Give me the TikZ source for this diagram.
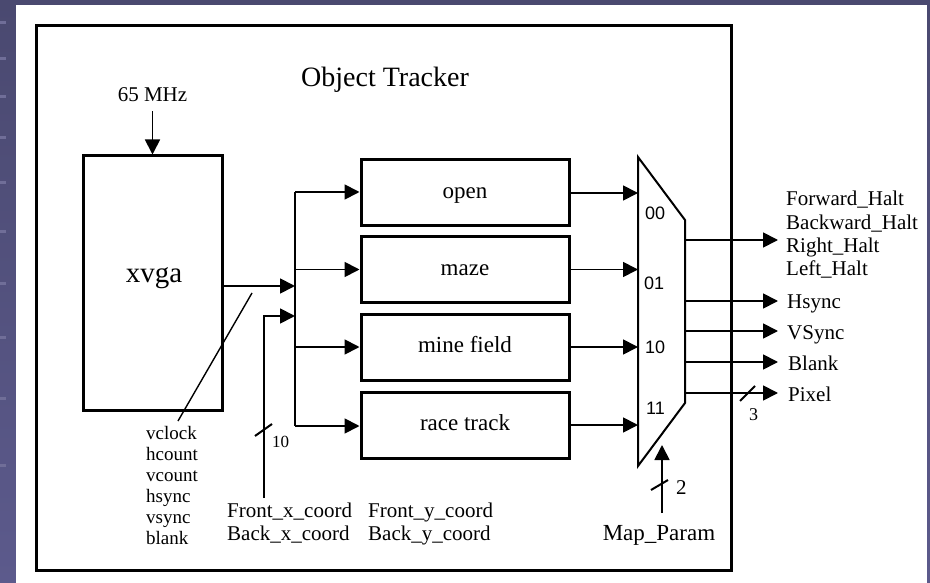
\documentclass[tikz,border=0pt]{standalone}
\usepackage{fontspec}
\setmainfont{Liberation Serif}
\newfontfamily\muxfont{Liberation Sans}
\usetikzlibrary{arrows.meta}
\definecolor{slidetop}{RGB}{74,73,112}
\definecolor{slidebot}{RGB}{92,90,140}
\definecolor{slidetick}{RGB}{112,110,152}

\begin{document}
\begin{tikzpicture}[x=1pt,y=-1pt,
  wire/.style={line width=1.8pt},
  sig/.style={wire,-{Triangle[length=15pt,width=15pt]}},
  busmark/.style={line width=2pt},
  lbl/.style={inner sep=0pt},
  fsz/.style={font=\fontsize{#1}{#1}\selectfont},
  block/.style={draw,line width=3pt,minimum width=208pt,minimum height=66pt,
    inner sep=0pt,fsz=23,text height=16.5pt,text depth=5pt},
  muxlbl/.style={lbl,anchor=base west,font=\muxfont\fontsize{18}{18}\selectfont},
  stack/.style={lbl,anchor=north west,align=left},
]
% slide background and white panel
\shade[top color=slidetop,bottom color=slidebot] (0,0) rectangle (930,583);
\useasboundingbox (0,0) rectangle (930,583);
\foreach \ty in {23,59,97,138,183,232,283,337,398,465}
  \fill[slidetick] (0,\ty-1.5) rectangle (6,\ty+1.5);
\fill[white] (16,5) rectangle (927,583);

% enclosing module
\node[draw,line width=3pt,minimum width=695pt,minimum height=544pt,inner sep=0pt]
  (tracker) at (383.5,298) {};
\node[lbl,anchor=base,fsz=28] (title) at (385,87) {Object Tracker};

% VGA timing generator
\node[draw,line width=3pt,minimum width=139pt,minimum height=254pt,inner sep=0pt]
  (xvga) at (152.5,283) {};
\node[lbl,anchor=base,fsz=29] (xvgatxt) at (154,283) {xvga};
\node[lbl,anchor=base,fsz=21] (clk) at (152.5,102) {65 MHz};
\draw[sig,shorten <=9pt] (clk.south) -- (clk.south |- xvga.north);

% display blocks
\node[block] (open) at (465,193) {open};
\node[block] (maze) at (465,269.5) {maze};
\node[block] (mine) at (465,347) {mine field};
\node[block] (race) at (465,425) {race track};

% fan-out bus
\coordinate (busTop) at (295,192);
\coordinate (busBot) at (295,426);
\coordinate (busIn1) at (295,286);
\coordinate (busIn2) at (295,316);
\coordinate (coordSrc) at (264,498);
\draw[wire] (busTop) -- (busBot);
\draw[sig] (xvga.east |- busIn1) -- (busIn1);
\draw[sig] (coordSrc) |- (busIn2);
\draw[sig] (busTop) -- (busTop -| open.west);
\draw[sig] (maze.west -| busTop) -- (maze.west);
\draw[sig] (mine.west -| busTop) -- (mine.west);
\draw[sig] (busBot) -- (busBot -| race.west);
\draw[busmark] (255,436) -- (272,424);
\node[lbl,anchor=base west,fsz=17] (w10) at (272,447) {10};

% signal list pointer
\coordinate (tapA) at (252,293);
\coordinate (tapB) at (178,421);
\draw[line width=1.4pt] (tapA) -- (tapB);
\node[stack,font=\fontsize{19}{21}\selectfont] (sigs) at (146,426)
  {vclock\\hcount\\vcount\\hsync\\vsync\\blank};
\node[stack,font=\fontsize{21}{23}\selectfont] (xcoord) at (227,503)
  {Front\_x\_coord\\Back\_x\_coord};
\node[stack,font=\fontsize{21}{23}\selectfont] (ycoord) at (368,503)
  {Front\_y\_coord\\Back\_y\_coord};

% output multiplexer
\coordinate (mA) at (638,157);
\coordinate (mB) at (685,220);
\coordinate (mC) at (685,403);
\coordinate (mD) at (638,466);
\draw[line width=2pt,line join=miter] (mA) -- (mB) -- (mC) -- (mD) -- cycle;
\draw[sig] (open.east) -- (open.east -| mA);
\draw[sig] (maze.east) -- (maze.east -| mA);
\draw[sig] (mine.east) -- (mine.east -| mA);
\draw[sig] (race.east) -- (race.east -| mA);
\node[muxlbl] (s00) at (645,220) {00};
\node[muxlbl] (s01) at (644,289) {01};
\node[muxlbl] (s10) at (645,353) {10};
\node[muxlbl] (s11) at (646,414) {11};

% select input
\node[lbl,anchor=base,fsz=23] (map) at (659,540) {Map\_Param};
\coordinate (selSrc) at (662,513);
\coordinate (selIn) at (662,445);
\draw[sig] (selSrc) -- (selIn);
\draw[busmark] (651,490) -- (668,480);
\node[lbl,anchor=base west,fsz=21] (w2) at (676,494) {2};

% outputs
\coordinate (oHalt) at (685,240);
\coordinate (oH) at (685,301);
\coordinate (oV) at (685,331);
\coordinate (oB) at (685,362);
\coordinate (oP) at (685,393);
\coordinate (tHalt) at (778,240);
\coordinate (tH) at (778,301);
\coordinate (tV) at (778,331);
\coordinate (tB) at (778,362);
\coordinate (tP) at (778,393);
\draw[sig] (oHalt) -- (tHalt);
\draw[sig] (oH) -- (tH);
\draw[sig] (oV) -- (tV);
\draw[sig] (oB) -- (tB);
\draw[sig] (oP) -- (tP);
\draw[busmark] (740,401) -- (755,386);
\node[lbl,anchor=base west,fsz=18] (w3) at (749,420) {3};
\node[stack,font=\fontsize{21}{23.3}\selectfont] (halts) at (786,191)
  {Forward\_Halt\\Backward\_Halt\\Right\_Halt\\Left\_Halt};
\node[lbl,anchor=base west,fsz=21] (hs) at (787,308) {Hsync};
\node[lbl,anchor=base west,fsz=21] (vs) at (787,339) {VSync};
\node[lbl,anchor=base west,fsz=21] (bl) at (788,370) {Blank};
\node[lbl,anchor=base west,fsz=21] (px) at (788,401) {Pixel};
\end{tikzpicture}
\end{document}
